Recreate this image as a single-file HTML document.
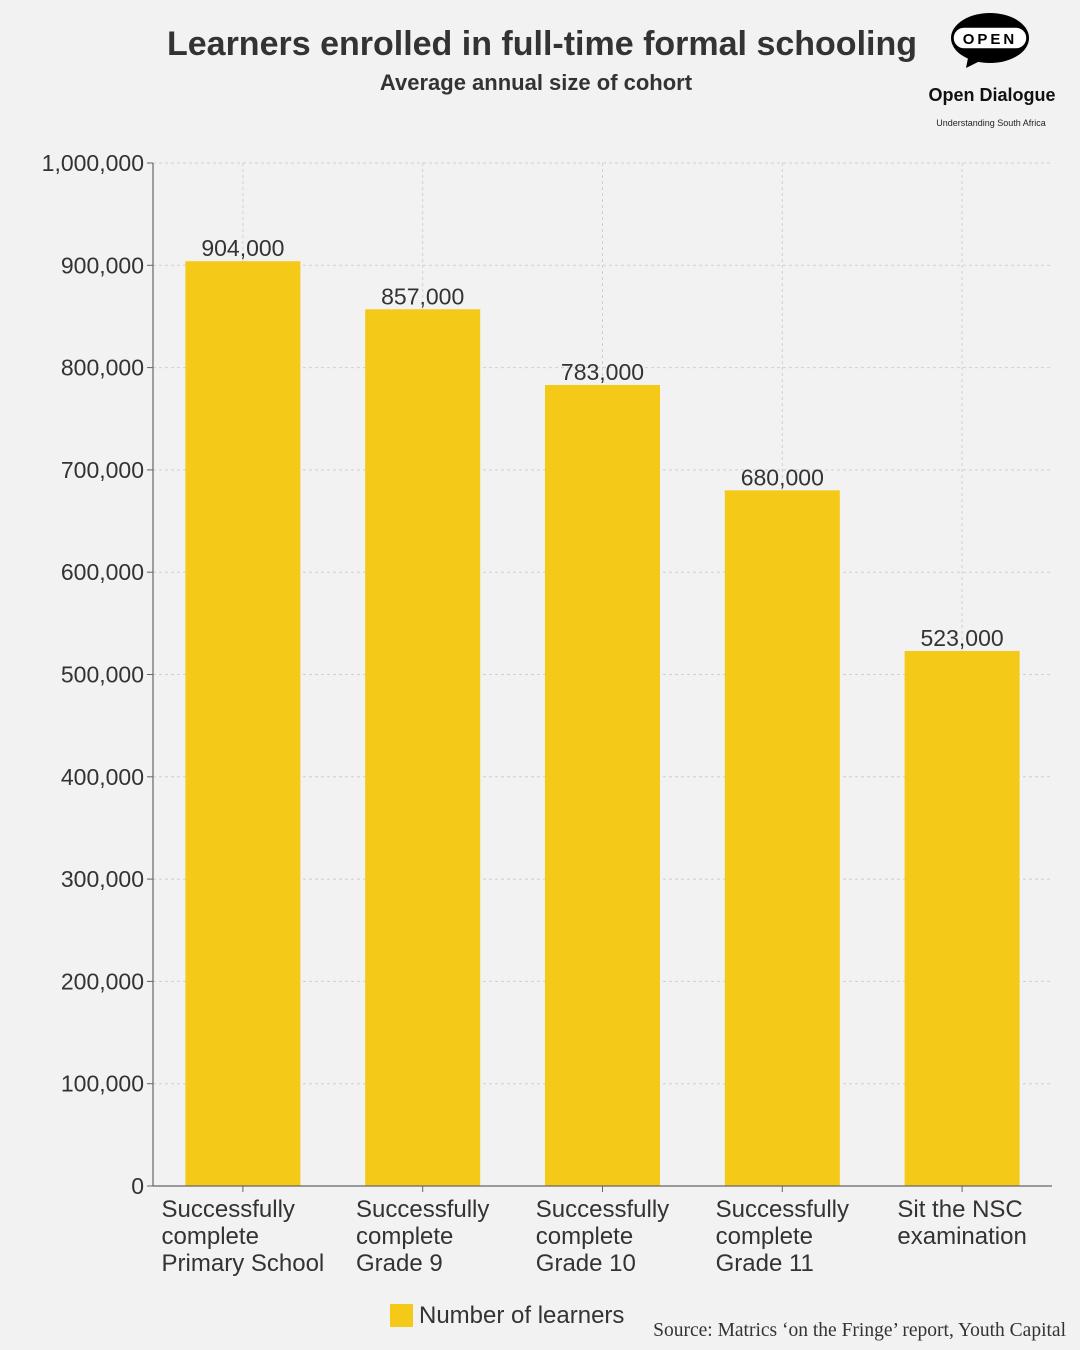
<!DOCTYPE html>
<html><head><meta charset="utf-8"><style>
html,body{margin:0;padding:0;background:#f2f2f2;}
svg{display:block;font-family:"Liberation Sans",sans-serif;}
</style></head><body>
<svg id="chart" width="1080" height="1350" viewBox="0 0 1080 1350">
<rect width="1080" height="1350" fill="#f2f2f2"/>
<text x="542" y="55" text-anchor="middle" font-size="34" font-weight="bold" fill="#333">Learners enrolled in full-time formal schooling</text>
<text x="536" y="90" text-anchor="middle" font-size="22" font-weight="bold" fill="#333">Average annual size of cohort</text>
<g>
<path d="M968 58 L966 68 L982 60 Z" fill="#000"/>
<ellipse cx="990" cy="38" rx="39" ry="25" fill="#000"/>
<rect x="953" y="27" width="74" height="22" rx="11" fill="#fff" stroke="#000" stroke-width="1.5"/>
<text x="990" y="44" text-anchor="middle" font-size="15" font-weight="bold" letter-spacing="3" fill="#000">OPEN</text>
<text x="992" y="101" text-anchor="middle" font-size="18" font-weight="bold" fill="#111">Open Dialogue</text>
<text x="991" y="126" text-anchor="middle" font-size="9" fill="#222">Understanding South Africa</text>
</g>
<g id="grid"></g><g id="bars"></g><g id="axes"></g>
<g>
<rect x="390" y="1304" width="23" height="23" fill="#f5c918"/>
<text x="419" y="1323" font-size="24" fill="#333">Number of learners</text>
</g>
<text x="1066" y="1336" text-anchor="end" font-size="19.5" fill="#333" font-family="Liberation Serif,serif">Source: Matrics ‘on the Fringe’ report, Youth Capital</text>
</svg>
<script>
const categories=[["Successfully","complete","Primary School"],["Successfully","complete","Grade 9"],["Successfully","complete","Grade 10"],["Successfully","complete","Grade 11"],["Sit the NSC","examination"]];
const values=[904000,857000,783000,680000,523000];
const valueLabels=["904,000","857,000","783,000","680,000","523,000"];
const yTicks=[0,100000,200000,300000,400000,500000,600000,700000,800000,900000,1000000];
const yTickLabels=["0","100,000","200,000","300,000","400,000","500,000","600,000","700,000","800,000","900,000","1,000,000"];
const NS="http://www.w3.org/2000/svg";
const L=153,R=1052,T=163,B=1186;
const y=v=>B-(v/1000000)*(B-T);
const band=(R-L)/categories.length;
const xc=i=>L+band*(i+0.5);
const bw=115;
function mk(tag,attrs,parent){const e=document.createElementNS(NS,tag);for(const k in attrs)e.setAttribute(k,attrs[k]);parent.appendChild(e);return e;}
const grid=document.getElementById('grid'),bars=document.getElementById('bars'),axes=document.getElementById('axes');
yTicks.forEach((t,i)=>{
 if(t>0){const g=mk('line',{x1:L,x2:R,y1:y(t),y2:y(t),stroke:'#d0d0d0','stroke-dasharray':'3,3'},grid);
 
 }
 const tk=mk('line',{x1:L-6,x2:L,y1:y(t),y2:y(t),stroke:'#666'},axes);
 
 
 const lb=mk('text',{x:L-9,y:y(t)+8,'text-anchor':'end','font-size':23,fill:'#333'},axes);
 lb.textContent=yTickLabels[i];
 
 
});
categories.forEach((c,i)=>{
 const vg=mk('line',{x1:xc(i),x2:xc(i),y1:T,y2:B,stroke:'#d0d0d0','stroke-dasharray':'3,3'},grid);
 
 
 const r=mk('rect',{x:xc(i)-bw/2,y:y(values[i]),width:bw,height:B-y(values[i]),fill:'#f5c918'},bars);
 
 
 const vl=mk('text',{x:xc(i),y:y(values[i])-5,'text-anchor':'middle','font-size':23,fill:'#333'},bars);
 vl.textContent=valueLabels[i];
 
 
 const tk=mk('line',{x1:xc(i),x2:xc(i),y1:B,y2:B+6,stroke:'#666'},axes);
 
 
 const lines=[];let maxW=0;
 c.forEach((ln,j)=>{
  const t=mk('text',{x:0,y:B+31+j*27,'font-size':24,fill:'#333'},axes);
  t.textContent=ln;
  
  
  maxW=Math.max(maxW,t.getComputedTextLength());lines.push(t);
 });
 lines.forEach(t=>t.setAttribute('x',xc(i)-maxW/2));
});
const ya=mk('line',{x1:L,x2:L,y1:T,y2:B,stroke:'#666','stroke-width':1.2},axes);


const xa=mk('line',{x1:L,x2:R,y1:B,y2:B,stroke:'#666','stroke-width':1.2},axes);


</script>
</body></html>
